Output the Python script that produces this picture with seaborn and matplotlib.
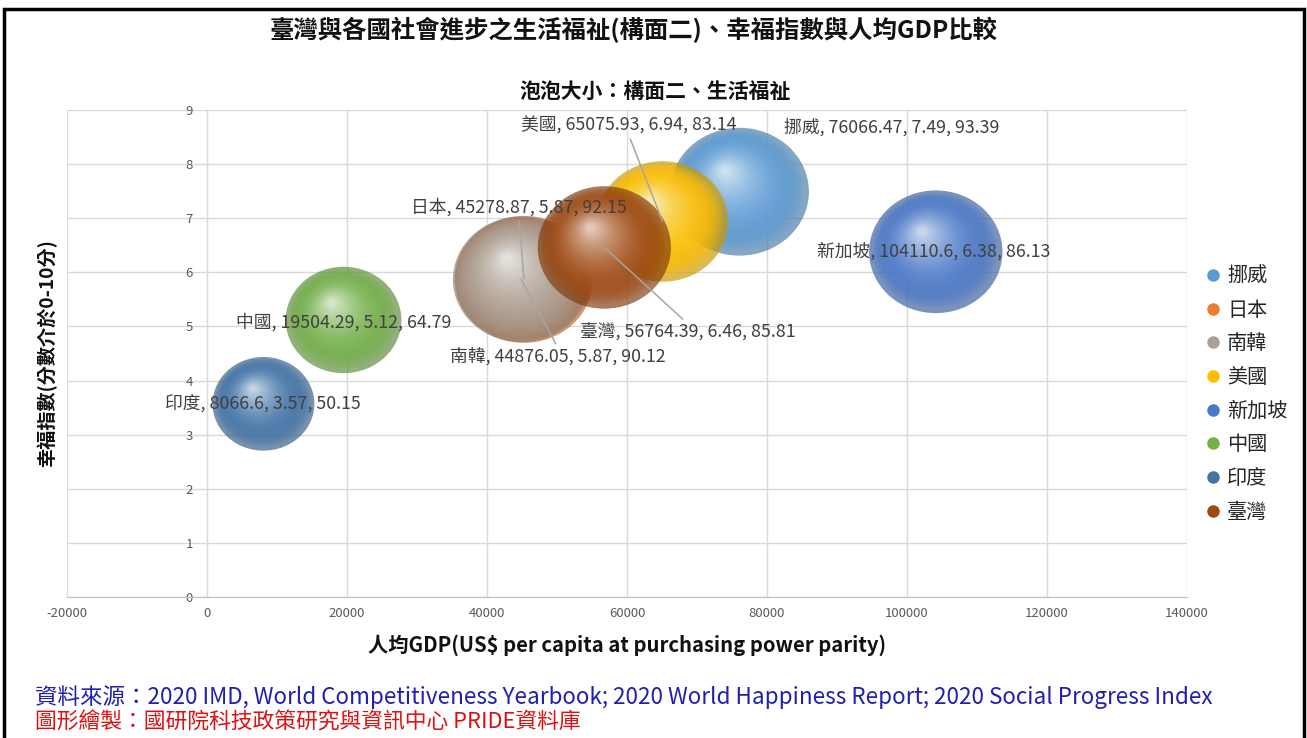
import numpy as np
import pandas as pd
import matplotlib
matplotlib.use("Agg")
import matplotlib.pyplot as plt
import matplotlib.colors as mcolors
from matplotlib.markers import MarkerStyle
from matplotlib.transforms import Affine2D
from matplotlib.lines import Line2D
from matplotlib.patches import Rectangle
import seaborn as sns

# ---------------- data ----------------
countries = ['挪威', '日本', '南韓', '美國', '新加坡', '中國', '印度', '臺灣']
gdp = [76066.47, 45278.87, 44876.05, 65075.93, 104110.6, 19504.29, 8066.6, 56764.39]
happiness = [7.49, 5.87, 5.87, 6.94, 6.38, 5.12, 3.57, 6.46]
welfare = [93.39, 92.15, 90.12, 83.14, 86.13, 64.79, 50.15, 85.81]
colors = ['#5b9bd5', '#ed7d31', '#ad9f93', '#ffc000', '#4a78c8', '#74b04a', '#4274a8', '#a04a12']

xticks = [-20000, 0, 20000, 40000, 60000, 80000, 100000, 120000, 140000]
yticks = [0, 1, 2, 3, 4, 5, 6, 7, 8, 9]

title = '臺灣與各國社會進步之生活福祉(構面二)、幸福指數與人均GDP比較'
subtitle = '泡泡大小：構面二、生活福祉'
xlabel = '人均GDP(US$ per capita at purchasing power parity)'
ylabel = '幸福指數(分數介於0-10分)'
source1 = '資料來源：2020 IMD, World Competitiveness Yearbook; 2020 World Happiness Report; 2020 Social Progress Index'
source2 = '圖形繪製：國研院科技政策研究與資訊中心 PRIDE資料庫'

# label offsets (pixels) and whether a leader line is drawn
label_offsets = [(152, 64), (-5, 72), (37, -78), (-34, 96), (-2, 0), (0, -2), (-1, -1), (83, -85)]
leader = [False, True, True, True, False, False, False, True]

df = pd.DataFrame({'country': countries, 'gdp': gdp, 'happiness': happiness, 'welfare': welfare})

# ---------------- style ----------------
sns.set_style('white')
plt.rcParams['font.family'] = ['Noto Sans CJK TC', 'DejaVu Sans']

fig = plt.figure(figsize=(13.07, 7.38), dpi=100)
ax = fig.add_axes([67 / 1307, 1 - 597 / 738, 1120 / 1307, 487 / 738])

SMAX = 10000
ASPECT = 0.92
HL = (-0.11, 0.16)
NL = 40


def blend(c, w):
    r = np.array(mcolors.to_rgb(c))
    return tuple(r * (1 - w) + w)


def darken(c, f):
    r = np.array(mcolors.to_rgb(c))
    return tuple(r * f)


for i in range(len(df)):
    row = df.iloc[[i]]
    base = colors[i]
    # base (shadow) layer
    m0 = MarkerStyle('o', transform=Affine2D().scale(1.0, ASPECT))
    sns.scatterplot(data=row, x='gdp', y='happiness', size='welfare',
                    sizes=(0, SMAX), size_norm=(0, max(welfare)),
                    marker=m0, color=darken(base, 0.8), alpha=0.68,
                    linewidth=0, edgecolor='none', legend=False, ax=ax, zorder=3)
    for k in range(1, NL + 1):
        t = k / NL
        f = 0.96 - 0.9 * t
        dx, dy = HL[0] * (1 - f), HL[1] * (1 - f)
        mk = MarkerStyle('o', transform=Affine2D().scale(f, f * ASPECT).translate(dx, dy))
        w = 0.88 * t ** 1.7
        sns.scatterplot(data=row, x='gdp', y='happiness', size='welfare',
                        sizes=(0, SMAX), size_norm=(0, max(welfare)),
                        marker=mk, color=blend(base, w), alpha=0.16,
                        linewidth=0, edgecolor='none', legend=False, ax=ax, zorder=3)

# data labels
for i in range(len(df)):
    txt = f"{countries[i]}, {gdp[i]}, {happiness[i]}, {welfare[i]}"
    kw = dict(xy=(gdp[i], happiness[i]), xytext=label_offsets[i], textcoords='offset pixels',
              ha='center', va='center', fontsize=12.8, color='#404040', zorder=5)
    if leader[i]:
        rel = (0.5, 0.0) if label_offsets[i][1] > 0 else (0.5, 1.0)
        kw['arrowprops'] = dict(arrowstyle='-', color='#a6a6a6', lw=1.1,
                                shrinkA=1, shrinkB=0, relpos=rel)
    ax.annotate(txt, **kw)

# axes styling
ax.set_xlim(-20000, 140000)
ax.set_ylim(0, 9)
ax.set_xticks(xticks)
ax.set_yticks(yticks)
ax.set_xticklabels([str(v) for v in xticks])
ax.set_yticklabels([str(v) for v in yticks])
ax.grid(True, color='#d9d9d9', lw=1)
ax.set_axisbelow(True)
for s in ['top', 'right']:
    ax.spines[s].set_visible(False)
ax.spines['left'].set_position(('data', 0))
ax.spines['left'].set_color('#d9d9d9')
ax.spines['bottom'].set_color('#bfbfbf')
ax.tick_params(axis='both', length=0, labelsize=9.5, labelcolor='#595959')
ax.tick_params(axis='y', pad=10)
ax.tick_params(axis='x', pad=7)
ax.set_xlabel('')
ax.set_ylabel('')

fig.text(634 / 1307, 1 - 30 / 738, title, ha='center', va='center', fontsize=17.6, fontweight='bold', color='#111111')
fig.text(655 / 1307, 1 - 91 / 738, subtitle, ha='center', va='center', fontsize=15, fontweight='bold', color='#111111')
fig.text(627 / 1307, 1 - 645 / 738, xlabel, ha='center', va='center', fontsize=14.6, fontweight='bold', color='#111111')
fig.text(47 / 1307, 1 - 353 / 738, ylabel, ha='center', va='center', rotation=90, fontsize=13.8, fontweight='bold', color='#111111')
fig.text(35 / 1307, 1 - 697 / 738, source1, ha='left', va='center', fontsize=16.2, color='#1f1fb0')
fig.text(35 / 1307, 1 - 722 / 738, source2, ha='left', va='center', fontsize=15.7, color='#e01010')

# legend
handles = [Line2D([], [], marker='o', ls='', markerfacecolor=c, markeredgecolor='none', markersize=9)
           for c in colors]
fig.legend(handles, countries, loc='upper left', bbox_to_anchor=(1195 / 1307, 1 - 258 / 738),
           frameon=False, fontsize=14.5, labelspacing=0.63, handletextpad=0.2, handlelength=1.0,
           borderaxespad=0)

# outer frame
fig.add_artist(Rectangle((4 / 1307, -0.05), (1304 - 4) / 1307, 1.05 - 9 / 738,
                         transform=fig.transFigure, fill=False, ec='black', lw=2.5, clip_on=False))

fig.savefig('out.png', dpi=100)
